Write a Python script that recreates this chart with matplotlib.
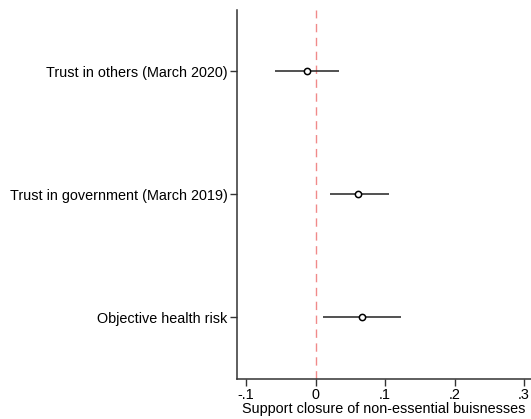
import numpy as np
import matplotlib.pyplot as plt

plt.rcParams['font.family'] = ['Liberation Sans', 'DejaVu Sans']

labels = ["Trust in others (March 2020)", "Trust in government (March 2019)", "Objective health risk"]
coef = [-0.013, 0.061, 0.067]
ci_low = [-0.059, 0.020, 0.011]
ci_high = [0.033, 0.105, 0.123]

xticks = [-0.1, 0, 0.1, 0.2, 0.3]
xtick_labels = ["-.1", "0", ".1", ".2", ".3"]

fig = plt.figure(figsize=(5.31, 4.19), dpi=100)
ax = fig.add_axes([0.4458, 0.0962, 0.5542, 0.8800])

pos = np.arange(len(labels))
ax.axvline(0, color="#f08a8a", lw=1, dashes=(6, 4), zorder=1)
ax.hlines(pos, ci_low, ci_high, color="#222222", lw=1.1, zorder=2)
ax.plot(coef, pos, "o", ms=4.5, mfc="white", mec="black", mew=1.1, zorder=3)

ax.set_ylim(len(labels) - 0.5, -0.5)
ax.set_xlim(-0.1137, 0.31)
ax.set_yticks(pos)
ax.set_yticklabels(labels, fontsize=10.4)
ax.set_xticks(xticks)
ax.set_xticklabels(xtick_labels, fontsize=10.4)
ax.set_xlabel("Support closure of non-essential buisnesses", fontsize=10.4, labelpad=0)

for s in ["top", "right"]:
    ax.spines[s].set_visible(False)
for s in ["left", "bottom"]:
    ax.spines[s].set_color("#333333")
    ax.spines[s].set_linewidth(1.1)
ax.tick_params(length=5, width=1, color="#333333", pad=1.5)

fig.savefig("out.png", dpi=100)
